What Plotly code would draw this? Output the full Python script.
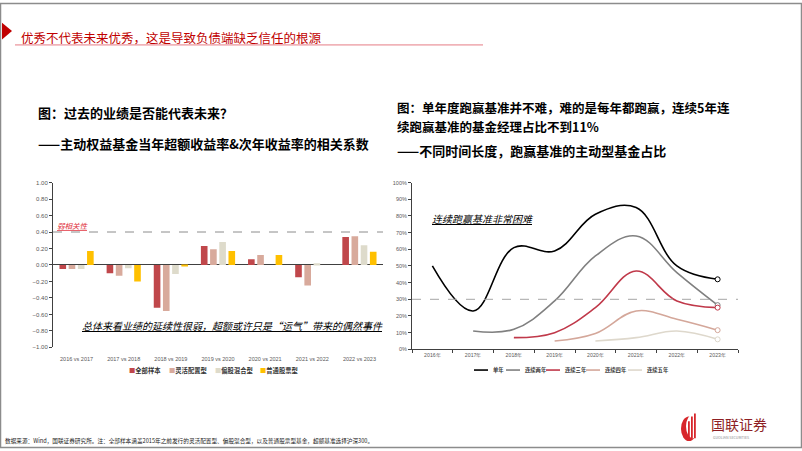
import plotly.graph_objects as go

W, H = 802, 451
def px(x): return x / W
def py(y): return 1 - y / H

FONT = "Noto Sans CJK SC"

# ---------------- Left chart data ----------------
periods = ["2016 vs 2017", "2017 vs 2018", "2018 vs 2019", "2019 vs 2020",
           "2020 vs 2021", "2021 vs 2022", "2022 vs 2023"]
all_sample = [-0.05, -0.10, -0.52, 0.23, 0.07, -0.15, 0.34]
flexible = [-0.05, -0.13, -0.56, 0.19, 0.12, -0.25, 0.35]
equity_hybrid = [-0.05, -0.04, -0.11, 0.28, 0.00, 0.02, 0.24]
common_stock = [0.17, -0.20, -0.01, 0.17, 0.12, 0.00, 0.16]
bar_names = ["全部样本", "灵活配置型", "偏股混合型", "普通股票型"]
bar_colors = ["#C0474B", "#D8AA9C", "#DEDBCB", "#FFC000"]
weak_corr_level = 0.40

# ---------------- Right chart data ----------------
years = ["2016年", "2017年", "2018年", "2019年", "2020年", "2021年", "2022年", "2023年"]
single_year = [0.50, 0.23, 0.61, 0.59, 0.81, 0.85, 0.50, 0.42]
two_years = [None, 0.11, 0.12, 0.29, 0.56, 0.68, 0.46, 0.265]
three_years = [None, None, 0.07, 0.10, 0.25, 0.47, 0.29, 0.25]
four_years = [None, None, None, 0.05, 0.095, 0.23, 0.18, 0.115]
five_years = [None, None, None, None, 0.05, 0.07, 0.11, 0.06]
line_names = ["单年", "连续两年", "连续三年", "连续四年", "连续五年"]
line_colors = ["#000000", "#808080", "#C0394A", "#D4A79A", "#DED8CC"]
hard_level = 0.30

fig = go.Figure()

for name, vals, col in zip(bar_names, [all_sample, flexible, equity_hybrid, common_stock], bar_colors):
    fig.add_trace(go.Bar(x=periods, y=vals, name=name, marker=dict(color=col, line=dict(width=0)),
                         xaxis="x", yaxis="y", showlegend=False))

for name, vals, col in zip(line_names, [single_year, two_years, three_years, four_years, five_years], line_colors):
    fig.add_trace(go.Scatter(x=years, y=vals, name=name, mode="lines",
                             line=dict(color=col, width=1.6, shape="spline", smoothing=1.1),
                             xaxis="x2", yaxis="y2", showlegend=False))
    fig.add_trace(go.Scatter(x=[years[-1]], y=[vals[-1]], mode="markers",
                             marker=dict(size=5, color="white", line=dict(color=col, width=1)),
                             xaxis="x2", yaxis="y2", showlegend=False))

shapes = []
annotations = []

# page border
shapes.append(dict(type="rect", xref="paper", yref="paper", x0=px(0.5), x1=px(801.5), y0=py(450.5), y1=py(0.5),
                   line=dict(color="#8C8C8C", width=1.5), layer="below"))
# title triangle + underline
shapes.append(dict(type="path", xref="paper", yref="paper",
                   path=f"M {px(2)},{py(20)} L {px(12)},{py(28.5)} L {px(2)},{py(37)} Z",
                   fillcolor="#C00000", line=dict(width=0)))
shapes.append(dict(type="line", xref="paper", yref="paper", x0=px(15), x1=px(483), y0=py(42.5), y1=py(42.5),
                   line=dict(color="#E57C84", width=1)))
annotations.append(dict(text="优秀不代表未来优秀，这是导致负债端缺乏信任的根源", x=px(19), y=py(35),
                        xref="paper", yref="paper", xanchor="left", yanchor="middle", showarrow=False,
                        font=dict(family=FONT, size=12.5, color="#C00000")))

# chart titles
def txt(t, x, y, size, color="#000000", anchor="left", align="left"):
    annotations.append(dict(text=t, x=px(x), y=py(y), xref="paper", yref="paper", xanchor=anchor,
                            yanchor="middle", showarrow=False, align=align,
                            font=dict(family=FONT, size=size, color=color)))

txt("<b>图：过去的业绩是否能代表未来？</b>", 36, 111, 13)
txt("<b>——主动权益基金当年超额收益率&次年收益率的相关系数</b>", 36, 142, 13)
txt("<b>图：单年度跑赢基准并不难，难的是每年都跑赢，连续5年连</b>", 395, 106, 12.5)
txt("<b>续跑赢基准的基金经理占比不到11%</b>", 395, 125, 12.5)
txt("<b>——不同时间长度，跑赢基准的主动型基金占比</b>", 395, 149.5, 13)

# reference lines
shapes.append(dict(type="line", xref="x domain", yref="y", x0=0, x1=1, y0=weak_corr_level, y1=weak_corr_level,
                   line=dict(color="#8C8C8C", width=1, dash="dash")))
shapes.append(dict(type="line", xref="x2 domain", yref="y2", x0=0, x1=1, y0=hard_level, y1=hard_level,
                   line=dict(color="#A6A6A6", width=1, dash="dash")))

# chart annotations
txt("<i><u>弱相关性</u></i>", 55, 225, 7.5, color="#E0303C")
txt("<i><u>总体来看业绩的延续性很弱，超额或许只是“运气”带来的偶然事件</u></i>", 80, 327, 10)
txt("<i><u>连续跑赢基准非常困难</u></i>", 430, 218, 10)

# left legend
for name, col, x in zip(bar_names, bar_colors, [127, 167, 213, 258]):
    txt(f'<span style="color:{col}">■</span><b>{name}</b>', x, 372, 6.3, color="#333333")

# right legend
for name, col, x in zip(line_names, line_colors, [474, 506, 546, 586, 628]):
    shapes.append(dict(type="line", xref="paper", yref="paper", x0=px(x), x1=px(x + 14), y0=py(372), y1=py(372),
                       line=dict(color=col, width=1.6)))
    txt(f"<b>{name}</b>", x + 17, 372, 5.3, color="#333333")

# footer
txt("数据来源：Wind，国联证券研究所。注：全部样本涵盖2015年之前发行的灵活配置型、偏股混合型，以及普通股票型基金，超额基准选择沪深300。",
    3, 443, 5.65, color="#222222")

# logo
shapes.append(dict(type="circle", xref="paper", yref="paper", x0=px(681), x1=px(697), y0=py(444), y1=py(419),
                   fillcolor="#D7262B", line=dict(width=0)))
shapes.append(dict(type="circle", xref="paper", yref="paper", x0=px(686), x1=px(700), y0=py(441), y1=py(417),
                   fillcolor="white", line=dict(width=0)))
for x0, y0 in [(688, 424), (691, 419), (694, 416)]:
    shapes.append(dict(type="rect", xref="paper", yref="paper", x0=px(x0), x1=px(x0 + 1.8), y0=py(441), y1=py(y0),
                       fillcolor="#D7262B", line=dict(width=0)))
txt("国联证券", 709, 426.5, 14, color="#8E1F24")
txt("GUOLIAN SECURITIES", 711, 440.5, 3.6, color="#888888")

tickfont = dict(family="Arial", size=6, color="#595959")
fig.update_layout(
    width=W, height=H, margin=dict(l=0, r=0, t=0, b=0),
    paper_bgcolor="white", plot_bgcolor="white",
    barmode="group", bargap=0.22, bargroupgap=0.28,
    xaxis=dict(domain=[px(53), px(383)], anchor="y", type="category", showline=False, ticks="",
               showgrid=False, tickfont=dict(family="Arial", size=5.5, color="#595959"), ticklabelstandoff=7),
    yaxis=dict(domain=[py(349), py(182)], anchor="x", range=[-1, 1], dtick=0.2, tick0=0, tickformat=".2f",
               showline=True, linecolor="#404040", linewidth=1, ticks="outside", ticklen=3, tickcolor="#404040",
               showgrid=False, zeroline=True, zerolinecolor="#404040", zerolinewidth=1, tickfont=tickfont),
    xaxis2=dict(domain=[px(412), px(738)], anchor="y2", type="category", range=[-0.5, 7.5],
                showline=True, linecolor="#404040",
                linewidth=1, ticks="outside", tickson="boundaries", ticklen=3, tickcolor="#404040",
                showgrid=False, tickfont=dict(family="Arial", size=5.2, color="#595959")),
    yaxis2=dict(domain=[py(351), py(182)], anchor="x2", range=[0, 1], dtick=0.1, tickformat=".0%",
                showline=True, linecolor="#404040", linewidth=1, ticks="outside", ticklen=3, tickcolor="#404040",
                showgrid=False, zeroline=False, tickfont=dict(family="Arial", size=5.5, color="#595959")),
    shapes=shapes, annotations=annotations, showlegend=False,
)

fig.write_html("out.html")
